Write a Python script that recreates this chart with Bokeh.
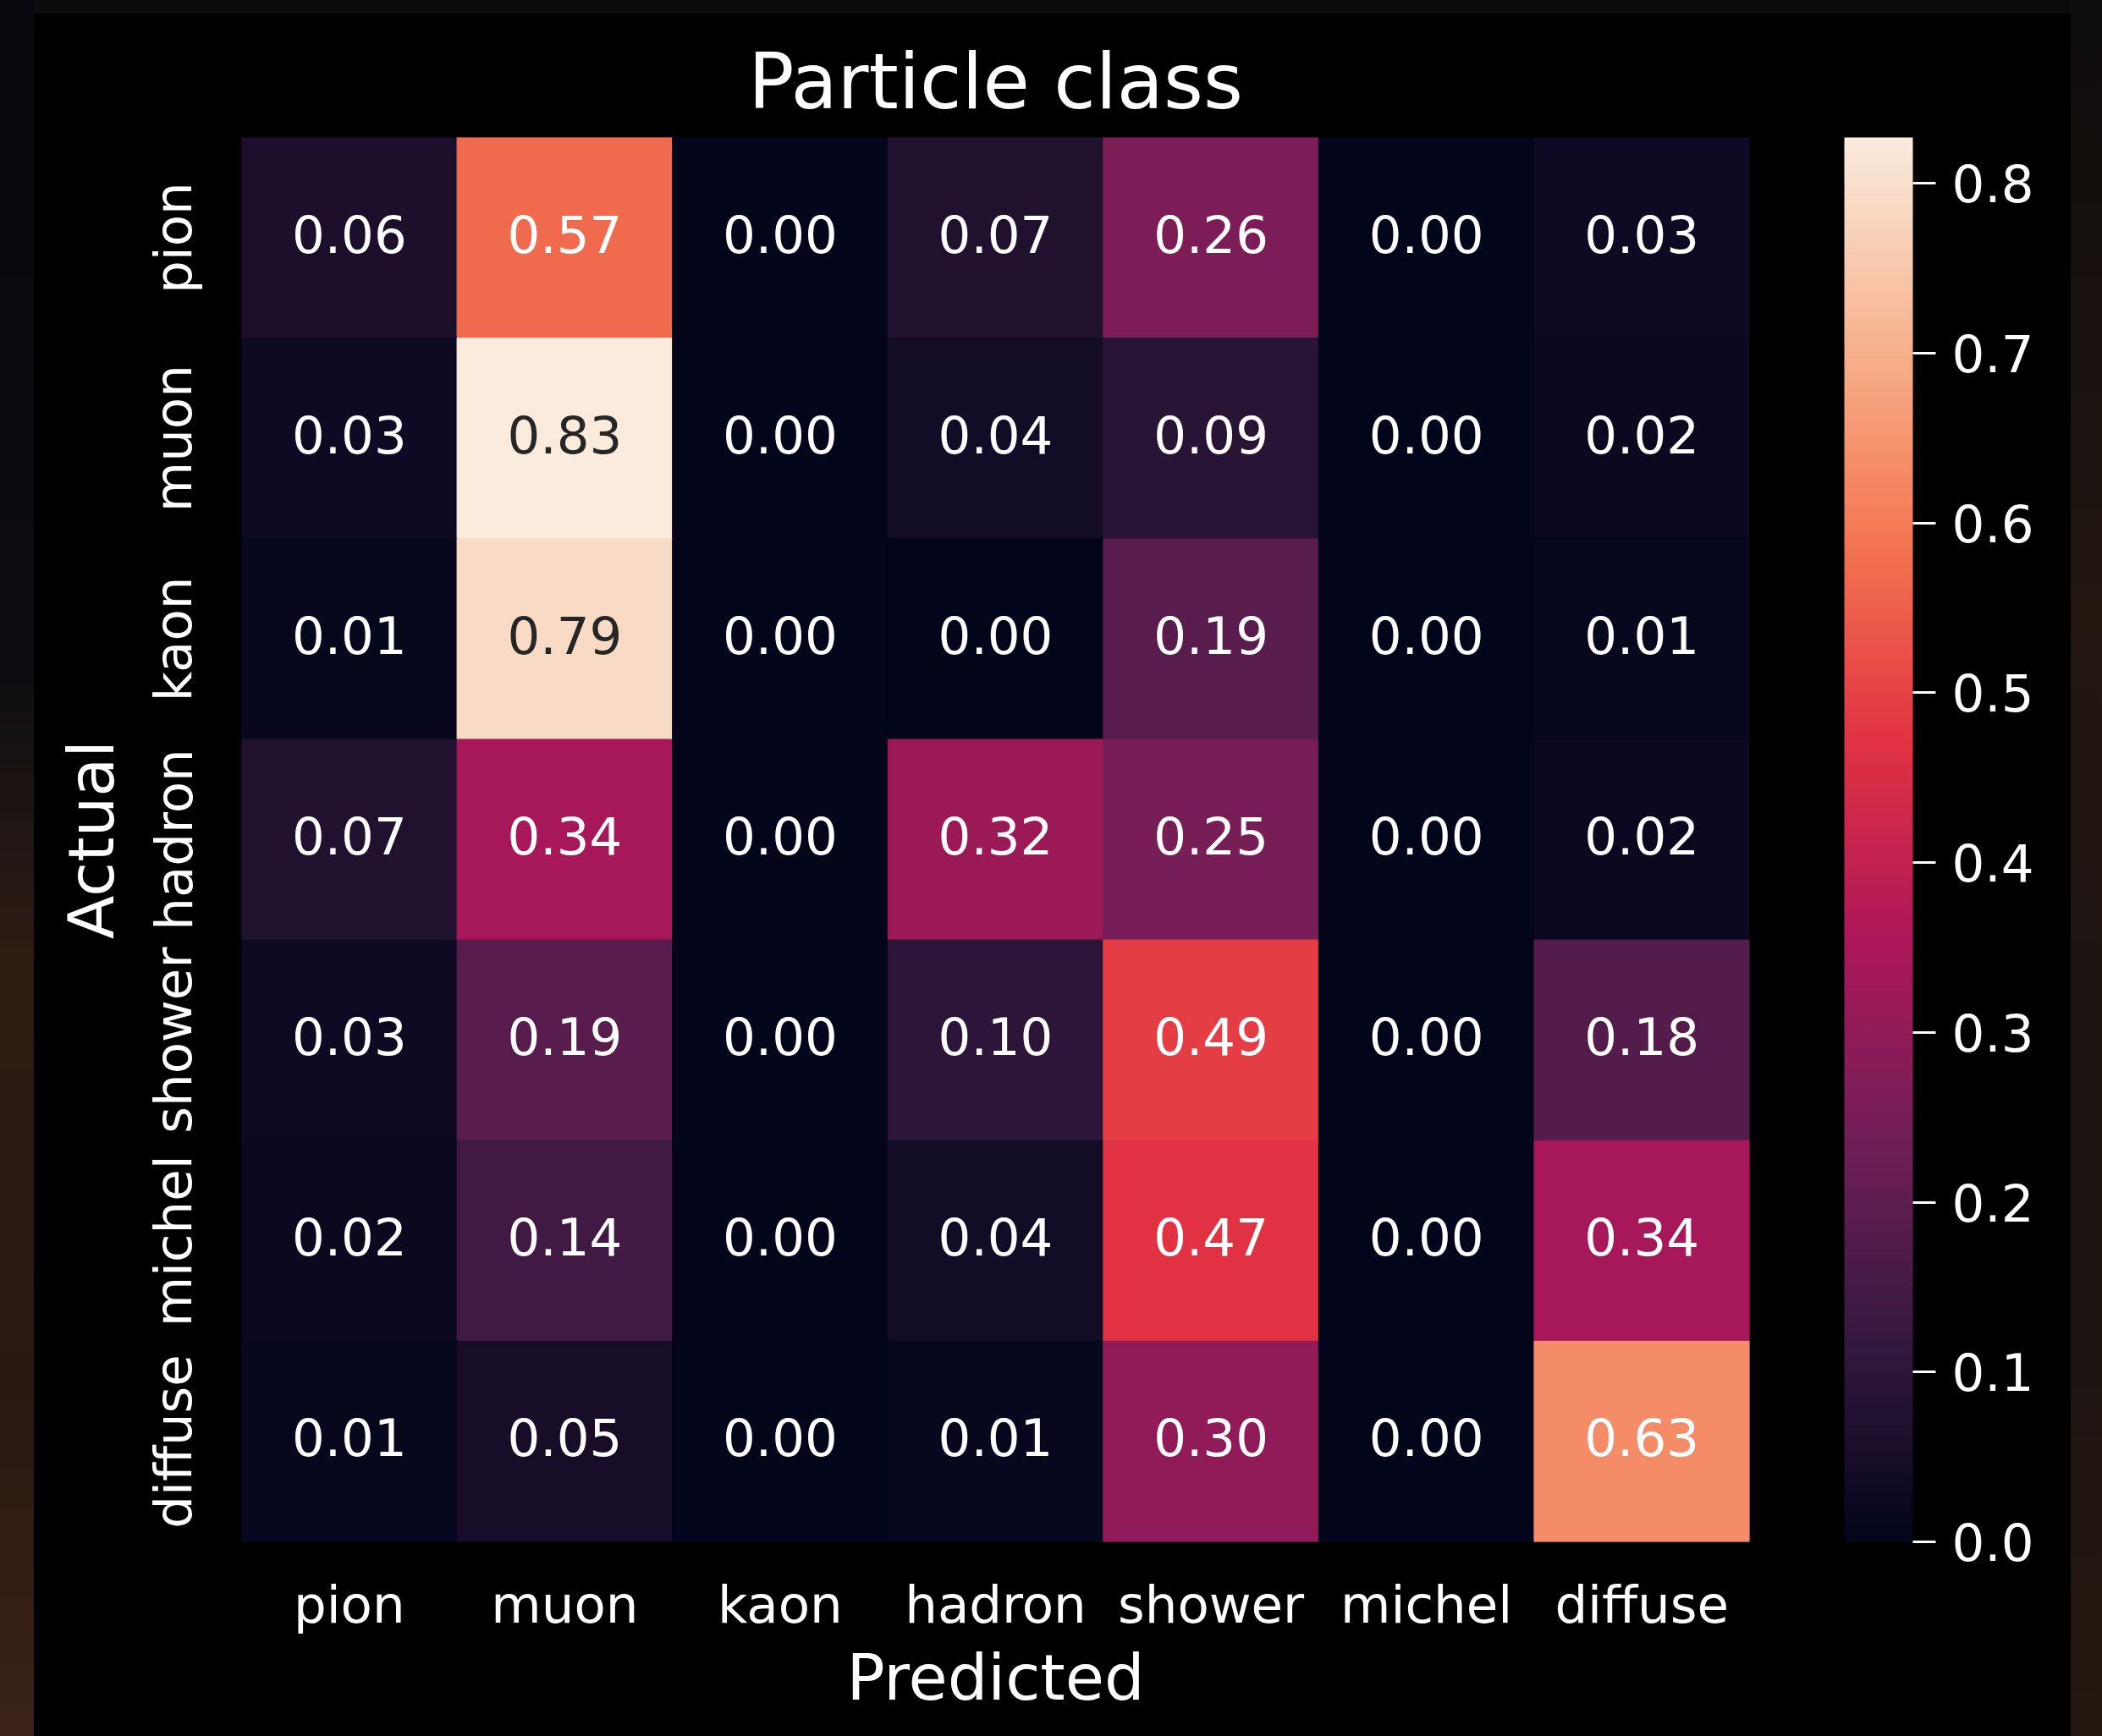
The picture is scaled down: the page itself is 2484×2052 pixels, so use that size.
import numpy as np
from bokeh.plotting import figure
from bokeh.models import (ColumnDataSource, LinearColorMapper, ColorBar, FixedTicker,
                          PrintfTickFormatter)
from bokeh.embed import file_html
from bokeh.resources import INLINE
from bokeh.core.properties import value

# ---------------- data ----------------
classes = ["pion", "muon", "kaon", "hadron", "shower", "michel", "diffuse"]
row_pion = [0.06, 0.57, 0.00, 0.07, 0.26, 0.00, 0.03]
row_muon = [0.03, 0.827, 0.00, 0.04, 0.09, 0.00, 0.02]
row_kaon = [0.01, 0.79, 0.00, 0.00, 0.19, 0.00, 0.01]
row_hadron = [0.07, 0.34, 0.00, 0.32, 0.25, 0.00, 0.02]
row_shower = [0.03, 0.19, 0.00, 0.10, 0.49, 0.00, 0.18]
row_michel = [0.02, 0.14, 0.00, 0.04, 0.47, 0.00, 0.34]
row_diffuse = [0.01, 0.05, 0.00, 0.01, 0.30, 0.00, 0.63]
rows = [row_pion, row_muon, row_kaon, row_hadron, row_shower, row_michel, row_diffuse]
cbar_ticks = [0.0, 0.1, 0.2, 0.3, 0.4, 0.5, 0.6, 0.7, 0.8]
title_text = "Particle class"
x_label = "Predicted"
y_label = "Actual"

# ---------------- colormap (seaborn "rocket" approximation) ----------------
stops = [0.0, 1/7, 2/7, 3/7, 4/7, 5/7, 6/7, 1.0]
stop_hex = ["#03051a", "#35193e", "#701f57", "#ad1759", "#e13342", "#f37651", "#f6b48f", "#faebdd"]
stop_rgb = np.array([[int(h[i:i + 2], 16) for i in (1, 3, 5)] for h in stop_hex], dtype=float)
t = np.linspace(0, 1, 256)
pal_rgb = np.stack([np.interp(t, stops, stop_rgb[:, k]) for k in range(3)], axis=1)
palette = ["#%02x%02x%02x" % tuple(int(round(c)) for c in rgb) for rgb in pal_rgb]

vmin = 0.0
vmax = max(max(r) for r in rows)
mapper = LinearColorMapper(palette=palette, low=vmin, high=vmax)


def lum_of(v):
    idx = int(np.clip((v - vmin) / (vmax - vmin) * 255, 0, 255))
    rgb = pal_rgb[idx] / 255.0
    lin = np.where(rgb <= 0.03928, rgb / 12.92, ((rgb + 0.055) / 1.055) ** 2.4)
    return 0.2126 * lin[0] + 0.7152 * lin[1] + 0.0722 * lin[2]


xs, ys, vs, labels, tcolors = [], [], [], [], []
for i, actual in enumerate(classes):
    for j, pred in enumerate(classes):
        v = rows[i][j]
        xs.append(pred)
        ys.append(actual)
        vs.append(v)
        labels.append(f"{v:.2f}")
        tcolors.append("#262626" if lum_of(v) > 0.408 else "#ffffff")

src = ColumnDataSource(dict(x=xs, y=ys, v=vs, label=labels, tc=tcolors))

FONT = "DejaVu Sans"
SMALL = "61px"
W, H = 2484, 2052

bg_css = ("linear-gradient(#000, #000) 40px 16px / 2407px 2100px no-repeat, "
          "linear-gradient(180deg, #08090d 0%, #0b0d12 38%, #2f1c13 55%, #2a1912 80%, #3a2216 100%) 0 0 / 40px 100% no-repeat, "
          "linear-gradient(180deg, #0e0c0c 0%, #22160f 35%, #1c130f 70%, #24170f 100%) 2447px 0 / 40px 100% no-repeat, "
          "#0b0b0e")

p = figure(width=W, height=H, x_range=classes, y_range=classes[::-1],
           output_backend="svg", toolbar_location=None,
           min_border_left=285, min_border_right=417, min_border_top=162, min_border_bottom=230,
           background_fill_color="black", border_fill_color=None,
           outline_line_color=None, title=title_text,
           styles={"background": bg_css})

p.title.text_font = FONT
p.title.text_font_size = "90px"
p.title.text_font_style = "normal"
p.title.text_color = "white"
p.title.align = "center"
p.title.standoff = 27

for ax in (p.xaxis[0], p.yaxis[0]):
    ax.axis_line_color = None
    ax.major_tick_line_color = None
    ax.minor_tick_line_color = None
    ax.major_tick_in = 0
    ax.major_tick_out = 0
    ax.major_label_text_font = FONT
    ax.major_label_text_font_size = SMALL
    ax.major_label_text_color = "white"
    ax.axis_label_text_font = FONT
    ax.axis_label_text_font_size = "75px"
    ax.axis_label_text_font_style = "normal"
    ax.axis_label_text_color = "white"

p.xaxis.axis_label = x_label
p.yaxis.axis_label = y_label
p.xaxis.major_label_standoff = 38
p.xaxis.axis_label_standoff = 4
p.yaxis.major_label_orientation = "vertical"
p.yaxis.major_label_standoff = 45
p.yaxis.axis_label_standoff = 15
p.grid.grid_line_color = None

p.rect(x="x", y="y", width=1, height=1, source=src,
       fill_color={"field": "v", "transform": mapper},
       line_color={"field": "v", "transform": mapper}, line_width=1)

p.text(x="x", y="y", text="label", source=src, text_align="center", text_baseline="middle",
       y_offset=-5, text_font=value(FONT), text_font_size=SMALL, text_color="tc")

cb = ColorBar(color_mapper=mapper, width=81, height=1660, location=(112, 0),
              padding=0, margin=0,
              ticker=FixedTicker(ticks=cbar_ticks), formatter=PrintfTickFormatter(format="%.1f"),
              major_tick_in=0, major_tick_out=27, major_tick_line_color="white",
              major_tick_line_width=3, minor_tick_line_color=None,
              label_standoff=19, major_label_text_font=FONT,
              major_label_text_font_size=SMALL, major_label_text_color="white",
              background_fill_color="black", border_line_color=None, bar_line_color=None)
p.add_layout(cb, "right")

open("out.html", "w").write(file_html(p, INLINE))
